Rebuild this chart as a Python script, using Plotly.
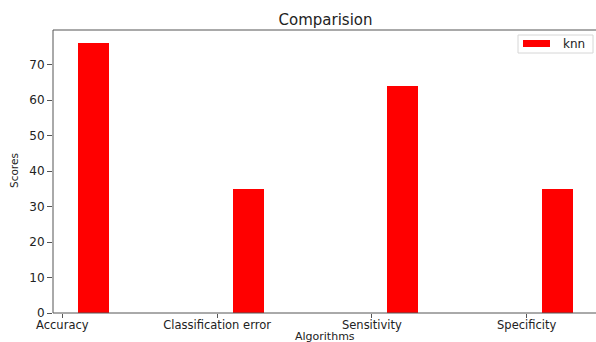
import plotly.graph_objects as go

# Scores per metric for the knn classifier
metrics = ["Accuracy", "Classification error", "Sensitivity", "Specificity"]
knn_scores = [76, 35, 64, 35]
series_name = "knn"
y_ticks = [0, 10, 20, 30, 40, 50, 60, 70]

W, H = 596, 342
M_L, M_R, M_T, M_B = 53, 0, 30, 29
PW, PH = W - M_L - M_R, H - M_T - M_B
X0, PX_PER_CAT = 62.3, 154.8  # first category centre and spacing, in pixels

def px_x(p):
    return (p - M_L) / PW

def px_y(p):
    return (H - M_B - p) / PH

FONT = "DejaVu Sans"
TXT = "#222222"
AX = "#555555"

x_lo = (M_L - X0) / PX_PER_CAT
x_hi = (W - M_R - X0) / PX_PER_CAT

fig = go.Figure()
fig.add_trace(go.Bar(
    x=metrics, y=knn_scores, name=series_name,
    width=0.2, offset=0.1,
    marker=dict(color="#ff0000", line=dict(width=0)),
    showlegend=False,
))

fig.update_layout(
    width=W, height=H,
    margin=dict(l=M_L, r=M_R, t=M_T, b=M_B, pad=0),
    paper_bgcolor="white", plot_bgcolor="white",
    font=dict(family=FONT, color=TXT, size=12),
    title=dict(text="Comparision", x=px_x(325.5), xref="paper", xanchor="center",
               y=1 - 20 / H, yanchor="middle", font=dict(size=15, family=FONT, color=TXT)),
    bargap=0,
    xaxis=dict(
        type="category", range=[x_lo, x_hi], showgrid=False, zeroline=False,
        showline=False, fixedrange=True,
        ticks="outside", ticklen=4, tickcolor=AX, tickwidth=1,
        ticklabelstandoff=-3,
        tickfont=dict(size=11.5, family=FONT, color=TXT), automargin=False,
    ),
    yaxis=dict(
        range=[0, 79.8], tickvals=y_ticks, showgrid=False, zeroline=False,
        showline=False, fixedrange=True,
        ticks="outside", ticklen=5, tickcolor=AX, tickwidth=1,
        tickfont=dict(size=12, family=FONT, color=TXT), automargin=False,
    ),
)

annotations = [
    dict(text="Algorithms", xref="paper", yref="paper", x=px_x(325), y=px_y(336.5),
         xanchor="center", yanchor="middle", showarrow=False,
         font=dict(size=11, family=FONT, color=TXT)),
    dict(text="Scores", xref="paper", yref="paper", x=px_x(14), y=px_y(171),
         xanchor="center", yanchor="middle", textangle=-90, showarrow=False,
         font=dict(size=10.5, family=FONT, color=TXT)),
    dict(text=series_name, xref="paper", yref="paper", x=px_x(561), y=px_y(43.5),
         xanchor="left", yanchor="middle", showarrow=False,
         font=dict(size=12, family=FONT, color=TXT)),
]

spine = dict(color=AX, width=1)
shapes = [
    # white strip along the page's right edge (axes run past the visible area)
    dict(type="rect", xref="paper", yref="paper", layer="above",
         x0=px_x(593.5), x1=px_x(600), y0=px_y(312), y1=px_y(31),
         line=dict(width=0), fillcolor="white"),
    # axes spines: left, bottom, top
    dict(type="line", xref="paper", yref="paper", x0=0, x1=0, y0=0, y1=1, line=spine),
    dict(type="line", xref="paper", yref="paper", x0=0, x1=1, y0=0, y1=0, line=spine),
    dict(type="line", xref="paper", yref="paper", x0=0, x1=1, y0=1, y1=1, line=spine),
    # legend frame
    dict(type="rect", xref="paper", yref="paper",
         x0=px_x(518), x1=px_x(593), y0=px_y(53), y1=px_y(35),
         line=dict(color="#d6d6d6", width=1), fillcolor="rgba(255,255,255,0.8)"),
    # legend patch
    dict(type="rect", xref="paper", yref="paper",
         x0=px_x(523), x1=px_x(550), y0=px_y(47), y1=px_y(40),
         line=dict(width=0), fillcolor="#ff0000"),
]

fig.update_layout(annotations=annotations, shapes=shapes)
fig.write_html("out.html", config=dict(displayModeBar=False, staticPlot=True))
